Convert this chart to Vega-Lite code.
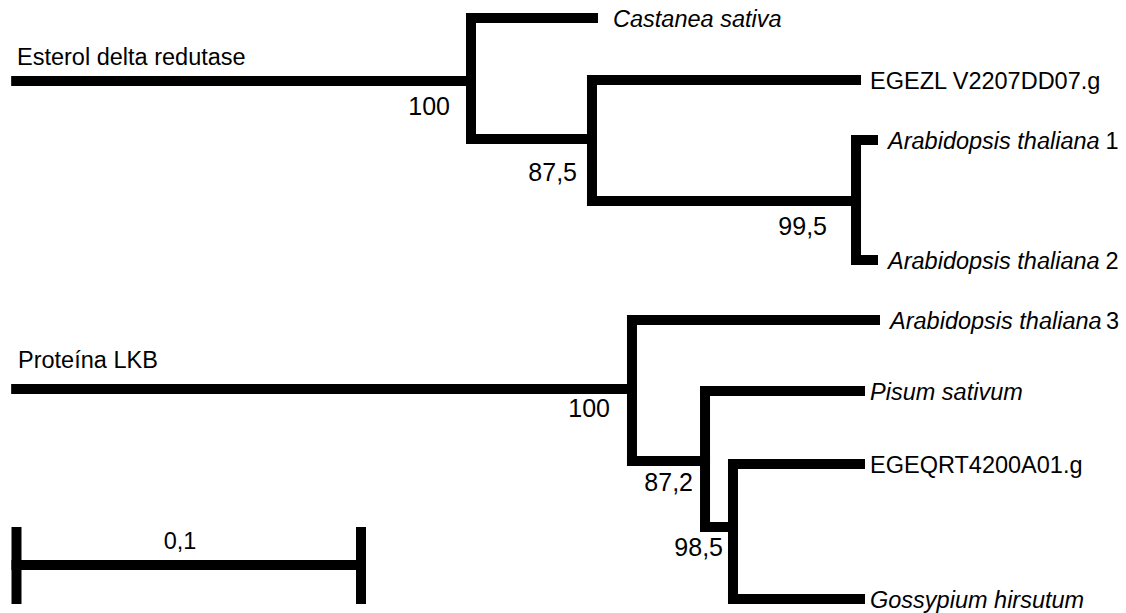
{
  "$schema": "https://vega.github.io/schema/vega-lite/v6.json",
  "width": 1126,
  "height": 613,
  "autosize": {"type": "fit", "contains": "padding"},
  "padding": 0,
  "background": "white",
  "config": {"view": {"stroke": null}},
  "datasets": {
    "branches": [
      {"part": "root A", "x": -0.0001, "x2": 0.13193, "y": 81, "y2": 81},
      {"part": "node A1", "x": 0.13193, "x2": 0.13193, "y": 18, "y2": 139},
      {"part": "Castanea sativa", "x": 0.13193, "x2": 0.16734, "y": 18, "y2": 18},
      {"part": "A1 lower", "x": 0.13193, "x2": 0.16705, "y": 139, "y2": 139},
      {"part": "node A2", "x": 0.16705, "x2": 0.16705, "y": 80, "y2": 201},
      {"part": "EGEZL", "x": 0.16705, "x2": 0.24369, "y": 80, "y2": 80},
      {"part": "A2 lower", "x": 0.16705, "x2": 0.24369, "y": 201, "y2": 201},
      {"part": "node A3", "x": 0.24369, "x2": 0.24369, "y": 140, "y2": 260},
      {"part": "Arabidopsis 1", "x": 0.24369, "x2": 0.24862, "y": 140, "y2": 140},
      {"part": "Arabidopsis 2", "x": 0.24369, "x2": 0.24862, "y": 260, "y2": 260},
      {"part": "root B", "x": -0.0001, "x2": 0.17866, "y": 389, "y2": 389},
      {"part": "node B1", "x": 0.17866, "x2": 0.17866, "y": 320, "y2": 461},
      {"part": "Arabidopsis 3", "x": 0.17866, "x2": 0.2492, "y": 320, "y2": 320},
      {"part": "B1 lower", "x": 0.17866, "x2": 0.19986, "y": 461, "y2": 461},
      {"part": "node B2", "x": 0.19986, "x2": 0.19986, "y": 391, "y2": 527},
      {"part": "Pisum sativum", "x": 0.19986, "x2": 0.24485, "y": 391, "y2": 391},
      {"part": "B2 lower", "x": 0.19986, "x2": 0.20798, "y": 527, "y2": 527},
      {"part": "node B3", "x": 0.20798, "x2": 0.20798, "y": 464, "y2": 599},
      {"part": "EGEQRT", "x": 0.20798, "x2": 0.24485, "y": 464, "y2": 464},
      {"part": "Gossypium", "x": 0.20798, "x2": 0.24485, "y": 599, "y2": 599},
      {"part": "scale bar", "x": 0, "x2": 0.1, "y": 565, "y2": 565},
      {"part": "scale tick left", "x": 0, "x2": 0, "y": 532, "y2": 599},
      {"part": "scale tick right", "x": 0.1, "x2": 0.1, "y": 532, "y2": 599}
    ],
    "labels": [
      {"kind": "name", "text": "Esterol delta redutase", "x": 0.00015, "y": 58},
      {"kind": "name", "text": "Proteína LKB", "x": 0.00044, "y": 361},
      {"kind": "italic", "text": "Castanea sativa", "x": 0.17315, "y": 20},
      {"kind": "name", "text": "EGEZL V2207DD07.g", "x": 0.24775, "y": 82},
      {"kind": "italic", "text": "Arabidopsis thaliana", "x": 0.25298, "y": 142},
      {"kind": "name", "text": "1", "x": 0.31611, "y": 142},
      {"kind": "italic", "text": "Arabidopsis thaliana", "x": 0.25298, "y": 262},
      {"kind": "name", "text": "2", "x": 0.31611, "y": 262},
      {"kind": "italic", "text": "Arabidopsis thaliana", "x": 0.25356, "y": 322},
      {"kind": "name", "text": "3", "x": 0.31625, "y": 322},
      {"kind": "italic", "text": "Pisum sativum", "x": 0.24775, "y": 393},
      {"kind": "name", "text": "EGEQRT4200A01.g", "x": 0.24775, "y": 466},
      {"kind": "italic", "text": "Gossypium hirsutum", "x": 0.24775, "y": 601},
      {"kind": "support", "text": "100", "x": 0.12583, "y": 107},
      {"kind": "support", "text": "87,5", "x": 0.1627, "y": 173},
      {"kind": "support", "text": "99,5", "x": 0.23527, "y": 227},
      {"kind": "support", "text": "100", "x": 0.17228, "y": 409},
      {"kind": "support", "text": "87,2", "x": 0.19637, "y": 483},
      {"kind": "support", "text": "98,5", "x": 0.20508, "y": 548},
      {"kind": "scale", "text": "0,1", "x": 0.04746, "y": 542}
    ]
  },
  "layer": [
    {
      "data": {"name": "branches"},
      "mark": {"type": "rule", "color": "black", "strokeWidth": 10, "strokeCap": "square"},
      "encoding": {
        "x": {"field": "x", "type": "quantitative", "scale": {"domain": [-0.00479, 0.32206], "nice": false, "zero": false}, "axis": null},
        "x2": {"field": "x2"},
        "y": {"field": "y", "type": "quantitative", "scale": {"domain": [0, 613], "reverse": true, "nice": false, "zero": false}, "axis": null},
        "y2": {"field": "y2"}
      }
    },
    {
      "data": {"name": "labels"},
      "transform": [{"filter": "datum.kind === 'name'"}],
      "mark": {"type": "text", "align": "left", "baseline": "middle", "font": "Liberation Sans", "fontSize": 23.5, "color": "black"},
      "encoding": {
        "x": {"field": "x", "type": "quantitative"},
        "y": {"field": "y", "type": "quantitative"},
        "text": {"field": "text"}
      }
    },
    {
      "data": {"name": "labels"},
      "transform": [{"filter": "datum.kind === 'italic'"}],
      "mark": {"type": "text", "align": "left", "baseline": "middle", "font": "Liberation Sans", "fontStyle": "italic", "fontSize": 23.5, "color": "black"},
      "encoding": {
        "x": {"field": "x", "type": "quantitative"},
        "y": {"field": "y", "type": "quantitative"},
        "text": {"field": "text"}
      }
    },
    {
      "data": {"name": "labels"},
      "transform": [{"filter": "datum.kind === 'support'"}],
      "mark": {"type": "text", "align": "right", "baseline": "middle", "font": "Liberation Sans", "fontSize": 25, "color": "black"},
      "encoding": {
        "x": {"field": "x", "type": "quantitative"},
        "y": {"field": "y", "type": "quantitative"},
        "text": {"field": "text"}
      }
    },
    {
      "data": {"name": "labels"},
      "transform": [{"filter": "datum.kind === 'scale'"}],
      "mark": {"type": "text", "align": "center", "baseline": "middle", "font": "Liberation Sans", "fontSize": 23.5, "color": "black"},
      "encoding": {
        "x": {"field": "x", "type": "quantitative"},
        "y": {"field": "y", "type": "quantitative"},
        "text": {"field": "text"}
      }
    }
  ]
}
